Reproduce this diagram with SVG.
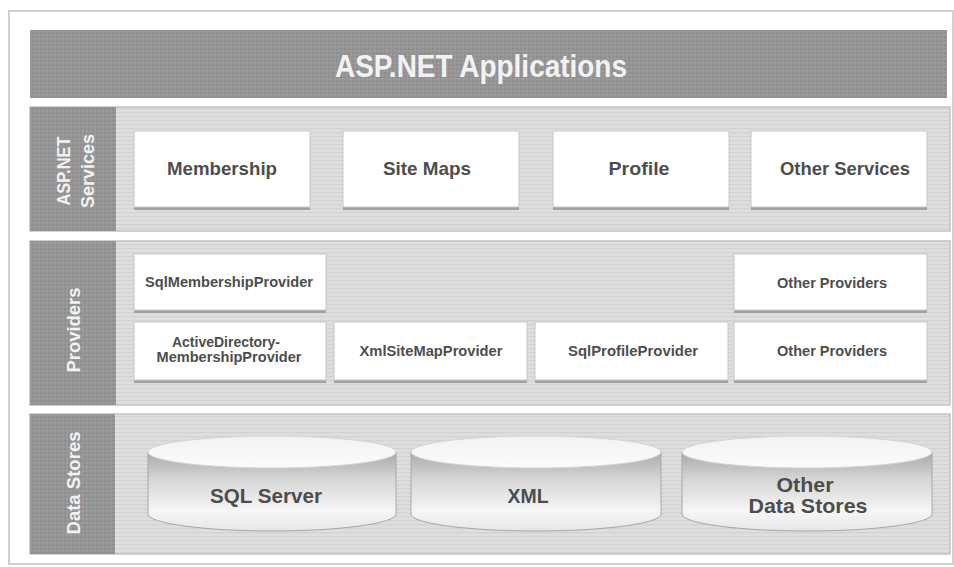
<svg xmlns="http://www.w3.org/2000/svg" width="954" height="567" viewBox="0 0 954 567">
<defs>
<pattern id="stripes" width="6" height="4" patternUnits="userSpaceOnUse">
<rect width="6" height="4" fill="#dedede"/>
<rect y="0" width="6" height="1.2" fill="#d2d2d2"/>
</pattern>
<pattern id="darkTex" width="4" height="4" patternUnits="userSpaceOnUse">
<rect width="4" height="4" fill="#959595"/>
<rect width="2" height="2" fill="#8f8f8f"/>
<rect x="2" y="2" width="2" height="2" fill="#9b9b9b"/>
</pattern>
<linearGradient id="side" x1="0" y1="0" x2="0" y2="1">
<stop offset="0" stop-color="#a9a9a9"/>
<stop offset="0.35" stop-color="#d6d6d6"/>
<stop offset="0.75" stop-color="#f6f6f6"/>
<stop offset="1" stop-color="#e6e6e6"/>
</linearGradient>
<linearGradient id="topg" x1="0" y1="0" x2="0" y2="1">
<stop offset="0" stop-color="#f2f2f2"/>
<stop offset="1" stop-color="#fbfbfb"/>
</linearGradient>
</defs>
<style>
.frame{fill:#fff;stroke:#d0d0d0;stroke-width:2}
.bar{fill:url(#darkTex)}
.panel{fill:url(#stripes);stroke:#c4c4c4;stroke-width:1.5}
.col{fill:url(#darkTex)}
.box{fill:#fff;stroke:#c8c8c8;stroke-width:1}
.shadow{fill:#a0a0a0}
.t{font-family:"Liberation Sans",Arial,sans-serif;font-weight:bold;fill:#4d4d4d;text-anchor:middle}
.w{font-family:"Liberation Sans",Arial,sans-serif;font-weight:bold;fill:#f2f2f2;text-anchor:middle}
.svc{font-size:19px}
.prv{font-size:14px}
.ds{font-size:21px}
.cylside{fill:url(#side);stroke:#a8a8a8;stroke-width:1}
.cyltop{fill:url(#topg);stroke:#d4d4d4;stroke-width:1}
</style>
<rect class="frame" x="9" y="11" width="944" height="553"/>

<g id="applications">
<rect class="bar" x="30" y="30" width="917" height="68"/>
<text class="w" x="481" y="77" font-size="31" textLength="292" lengthAdjust="spacingAndGlyphs">ASP.NET Applications</text>
</g>

<g id="services-layer">
<rect class="panel" x="30" y="107" width="920" height="124"/>
<rect class="col" x="30" y="107" width="86" height="124"/>
<g transform="translate(73,171) rotate(-90)">
<text class="w" x="0" y="-3" font-size="18" textLength="69" lengthAdjust="spacingAndGlyphs">ASP.NET</text>
<text class="w" x="0" y="21" font-size="18" textLength="74" lengthAdjust="spacingAndGlyphs">Services</text>
</g>
</g>

<g id="membership">
<rect class="shadow" x="134" y="131" width="176" height="79"/>
<rect class="box" x="134" y="131" width="176" height="76"/>
<text class="t svc" x="222" y="175" textLength="110" lengthAdjust="spacingAndGlyphs">Membership</text>
</g>
<g id="site-maps">
<rect class="shadow" x="343" y="131" width="176" height="79"/>
<rect class="box" x="343" y="131" width="176" height="76"/>
<text class="t svc" x="427" y="175" textLength="88" lengthAdjust="spacingAndGlyphs">Site Maps</text>
</g>
<g id="profile">
<rect class="shadow" x="553" y="131" width="176" height="79"/>
<rect class="box" x="553" y="131" width="176" height="76"/>
<text class="t svc" x="639" y="175" textLength="61" lengthAdjust="spacingAndGlyphs">Profile</text>
</g>
<g id="other-services">
<rect class="shadow" x="751" y="131" width="176" height="79"/>
<rect class="box" x="751" y="131" width="176" height="76"/>
<text class="t svc" x="845" y="175" textLength="130" lengthAdjust="spacingAndGlyphs">Other Services</text>
</g>

<g id="providers-layer">
<rect class="panel" x="30" y="241" width="920" height="164"/>
<rect class="col" x="30" y="241" width="86" height="164"/>
<g transform="translate(73,330) rotate(-90)">
<text class="w" x="0" y="7" font-size="18" textLength="85" lengthAdjust="spacingAndGlyphs">Providers</text>
</g>
</g>

<g id="sql-membership-provider">
<rect class="shadow" x="134" y="254" width="192" height="59"/>
<rect class="box" x="134" y="254" width="192" height="56"/>
<text class="t prv" x="229" y="287" textLength="168" lengthAdjust="spacingAndGlyphs">SqlMembershipProvider</text>
</g>
<g id="other-providers-1">
<rect class="shadow" x="734" y="254" width="193" height="59"/>
<rect class="box" x="734" y="254" width="193" height="56"/>
<text class="t prv" x="832" y="288" textLength="110" lengthAdjust="spacingAndGlyphs">Other Providers</text>
</g>
<g id="ad-membership-provider">
<rect class="shadow" x="134" y="322" width="192" height="61"/>
<rect class="box" x="134" y="322" width="192" height="58"/>
<text class="t prv" x="226" y="347" textLength="108" lengthAdjust="spacingAndGlyphs">ActiveDirectory-</text>
<text class="t prv" x="229" y="362" textLength="145" lengthAdjust="spacingAndGlyphs">MembershipProvider</text>
</g>
<g id="xml-sitemap-provider">
<rect class="shadow" x="334" y="322" width="193" height="61"/>
<rect class="box" x="334" y="322" width="193" height="58"/>
<text class="t prv" x="431" y="356" textLength="143" lengthAdjust="spacingAndGlyphs">XmlSiteMapProvider</text>
</g>
<g id="sql-profile-provider">
<rect class="shadow" x="535" y="322" width="193" height="61"/>
<rect class="box" x="535" y="322" width="193" height="58"/>
<text class="t prv" x="633" y="356" textLength="130" lengthAdjust="spacingAndGlyphs">SqlProfileProvider</text>
</g>
<g id="other-providers-2">
<rect class="shadow" x="734" y="322" width="193" height="61"/>
<rect class="box" x="734" y="322" width="193" height="58"/>
<text class="t prv" x="832" y="356" textLength="110" lengthAdjust="spacingAndGlyphs">Other Providers</text>
</g>

<g id="data-stores-layer">
<rect class="panel" x="30" y="414" width="920" height="140"/>
<rect class="col" x="30" y="414" width="85" height="140"/>
<g transform="translate(73,483) rotate(-90)">
<text class="w" x="0" y="7" font-size="18" textLength="103" lengthAdjust="spacingAndGlyphs">Data Stores</text>
</g>
</g>

<g id="sql-server">
<path class="cylside" d="M148,452 L148,514 A124,17 0 0 0 396,514 L396,452 Z"/>
<ellipse class="cyltop" cx="272" cy="452" rx="124" ry="16"/>
<text class="t ds" x="266" y="503" textLength="112" lengthAdjust="spacingAndGlyphs">SQL Server</text>
</g>
<g id="xml">
<path class="cylside" d="M411,452 L411,514 A125,17 0 0 0 661,514 L661,452 Z"/>
<ellipse class="cyltop" cx="536" cy="452" rx="125" ry="16"/>
<text class="t ds" x="528" y="503" textLength="41" lengthAdjust="spacingAndGlyphs">XML</text>
</g>
<g id="other-data-stores">
<path class="cylside" d="M682,452 L682,514 A125,17 0 0 0 932,514 L932,452 Z"/>
<ellipse class="cyltop" cx="807" cy="452" rx="125" ry="16"/>
<text class="t ds" x="805" y="492" textLength="57" lengthAdjust="spacingAndGlyphs">Other</text>
<text class="t ds" x="808" y="513" textLength="119" lengthAdjust="spacingAndGlyphs">Data Stores</text>
</g>

<g id="connectors"></g>
</svg>
